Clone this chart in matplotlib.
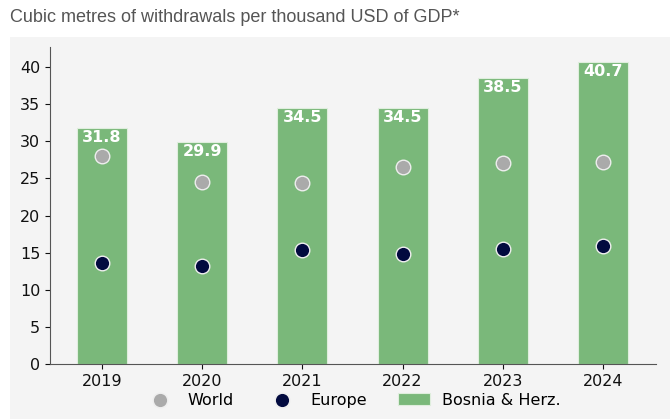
import matplotlib.pyplot as plt
from matplotlib.patches import Rectangle

plt.rcParams['font.family'] = ['DejaVu Sans']

years = ['2019', '2020', '2021', '2022', '2023', '2024']
bosnia = [31.8, 29.9, 34.5, 34.5, 38.5, 40.7]
world = [28.0, 24.5, 24.4, 26.6, 27.1, 27.2]
europe = [13.6, 13.2, 15.3, 14.8, 15.5, 15.9]

fig = plt.figure(figsize=(6.7, 4.19), dpi=100)
fig.patch.set_facecolor('white')

# grey panel behind the chart
fig.patches.append(Rectangle((10 / 670, 0), 660 / 670, 382 / 419, transform=fig.transFigure,
                             facecolor='#f4f4f4', edgecolor='none', zorder=-5))

fig.text(10 / 670, 1 - 17 / 419, 'Cubic metres of withdrawals per thousand USD of GDP*',
         fontsize=13, color='#555555', family='Liberation Sans', va='center', ha='left')

ax = fig.add_axes([50 / 670, 1 - 364 / 419, 606 / 670, 317 / 419])
ax.set_facecolor('#f4f4f4')

x = list(range(len(years)))
ax.bar(x, bosnia, width=0.5, color='#7ab87a', edgecolor='#dfeedd', linewidth=0.8,
       label='Bosnia & Herz.', zorder=2)
for xi, v in zip(x, bosnia):
    ax.text(xi, v - 0.3, f'{v}', ha='center', va='top', color='white', fontsize=11.5,
            fontweight='bold', zorder=4)

ax.scatter(x, world, s=110, color='#aaaaaa', edgecolors='#eeeeee', linewidths=1,
           label='World', zorder=3)
ax.scatter(x, europe, s=110, color='#020a3f', edgecolors='#eeeeee', linewidths=1,
           label='Europe', zorder=3)

ax.set_xlim(-0.52, 5.53)
ax.set_ylim(0, 42.7)
ax.set_yticks(range(0, 45, 5))
ax.set_xticks(x)
ax.set_xticklabels(years)
ax.tick_params(labelsize=11.5, colors='#111111')
for s in ['top', 'right']:
    ax.spines[s].set_visible(False)
for s in ['left', 'bottom']:
    ax.spines[s].set_color('#555555')

h, l = ax.get_legend_handles_labels()
order = [l.index('World'), l.index('Europe'), l.index('Bosnia & Herz.')]
fig.legend([h[i] for i in order], [l[i] for i in order], loc='center',
           bbox_to_anchor=(0.526, 1 - 400 / 419), ncol=3, frameon=False, fontsize=11.5,
           columnspacing=2.0, handletextpad=0.75)

fig.savefig('out.png', dpi=100)
